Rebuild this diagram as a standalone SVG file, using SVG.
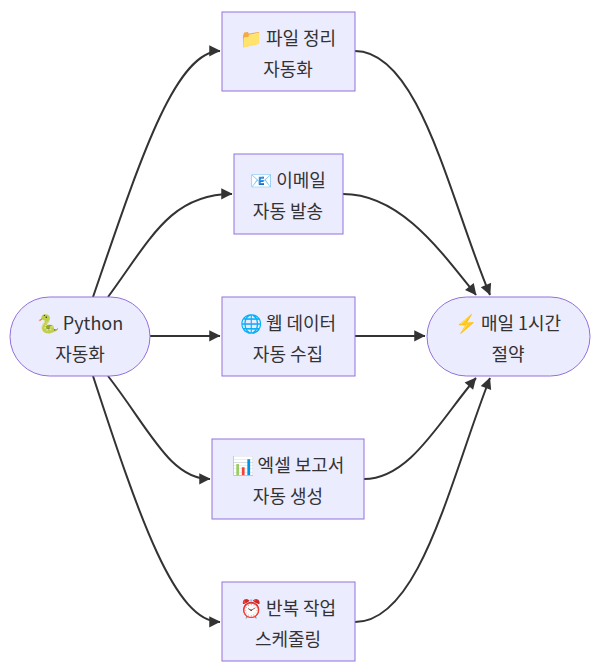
<svg xmlns="http://www.w3.org/2000/svg" width="600" height="672" viewBox="0 0 600 672">
<style>
.n{fill:#ECECFF;stroke:#9370DB;stroke-width:1}
.t{font-family:"Noto Sans CJK KR","Noto Sans",sans-serif;font-size:18px;fill:#333;text-anchor:middle}
.e{fill:none;stroke:#333;stroke-width:2}
</style>
<defs><marker id="a" viewBox="0 0 10 10" refX="9" refY="5" markerWidth="7" markerHeight="7" orient="auto" markerUnits="userSpaceOnUse" style="overflow:visible"><path d="M0,0L10,5L0,10z" fill="#333" transform="scale(1.6) translate(-4,-2)"/></marker></defs>
<rect width="600" height="672" fill="#fff"/>
<g id="edges">
<path class="e" marker-end="url(#a)" d="M93,297 C140,160 175,51 220,51"/>
<path class="e" marker-end="url(#a)" d="M108,297 C150,240 170,194 232,194"/>
<path class="e" marker-end="url(#a)" d="M150,336 L220,336"/>
<path class="e" marker-end="url(#a)" d="M108,376 C150,430 170,479 210,479"/>
<path class="e" marker-end="url(#a)" d="M93,376 C140,520 175,622 220,622"/>
<path class="e" marker-end="url(#a)" d="M355,51 C420,51 450,200 490,295"/>
<path class="e" marker-end="url(#a)" d="M343,194 C400,194 440,250 476,295"/>
<path class="e" marker-end="url(#a)" d="M355,336 L425,336"/>
<path class="e" marker-end="url(#a)" d="M364,479 C410,479 440,420 476,378"/>
<path class="e" marker-end="url(#a)" d="M355,622 C420,622 450,480 490,378"/>
</g>
<g id="python"><rect class="n" x="10" y="297" width="140" height="79" rx="39.5"/><text class="t" x="80" y="330">🐍 Python</text><text class="t" x="80" y="361">자동화</text></g>
<g id="save"><rect class="n" x="427" y="297" width="163" height="79" rx="39.5"/><text class="t" x="508" y="330">⚡ 매일 1시간</text><text class="t" x="508" y="361">절약</text></g>
<g id="n1"><rect class="n" x="222" y="12" width="133" height="79"/><text class="t" x="288" y="45">📁 파일 정리</text><text class="t" x="288" y="76">자동화</text></g>
<g id="n2"><rect class="n" x="234" y="154" width="109" height="80"/><text class="t" x="288" y="187">📧 이메일</text><text class="t" x="288" y="218">자동 발송</text></g>
<g id="n3"><rect class="n" x="222" y="297" width="133" height="79"/><text class="t" x="288" y="330">🌐 웹 데이터</text><text class="t" x="288" y="361">자동 수집</text></g>
<g id="n4"><rect class="n" x="212" y="439" width="152" height="80"/><text class="t" x="288" y="472">📊 엑셀 보고서</text><text class="t" x="288" y="503">자동 생성</text></g>
<g id="n5"><rect class="n" x="222" y="582" width="133" height="79"/><text class="t" x="288" y="615">⏰ 반복 작업</text><text class="t" x="288" y="646">스케줄링</text></g>
</svg>
